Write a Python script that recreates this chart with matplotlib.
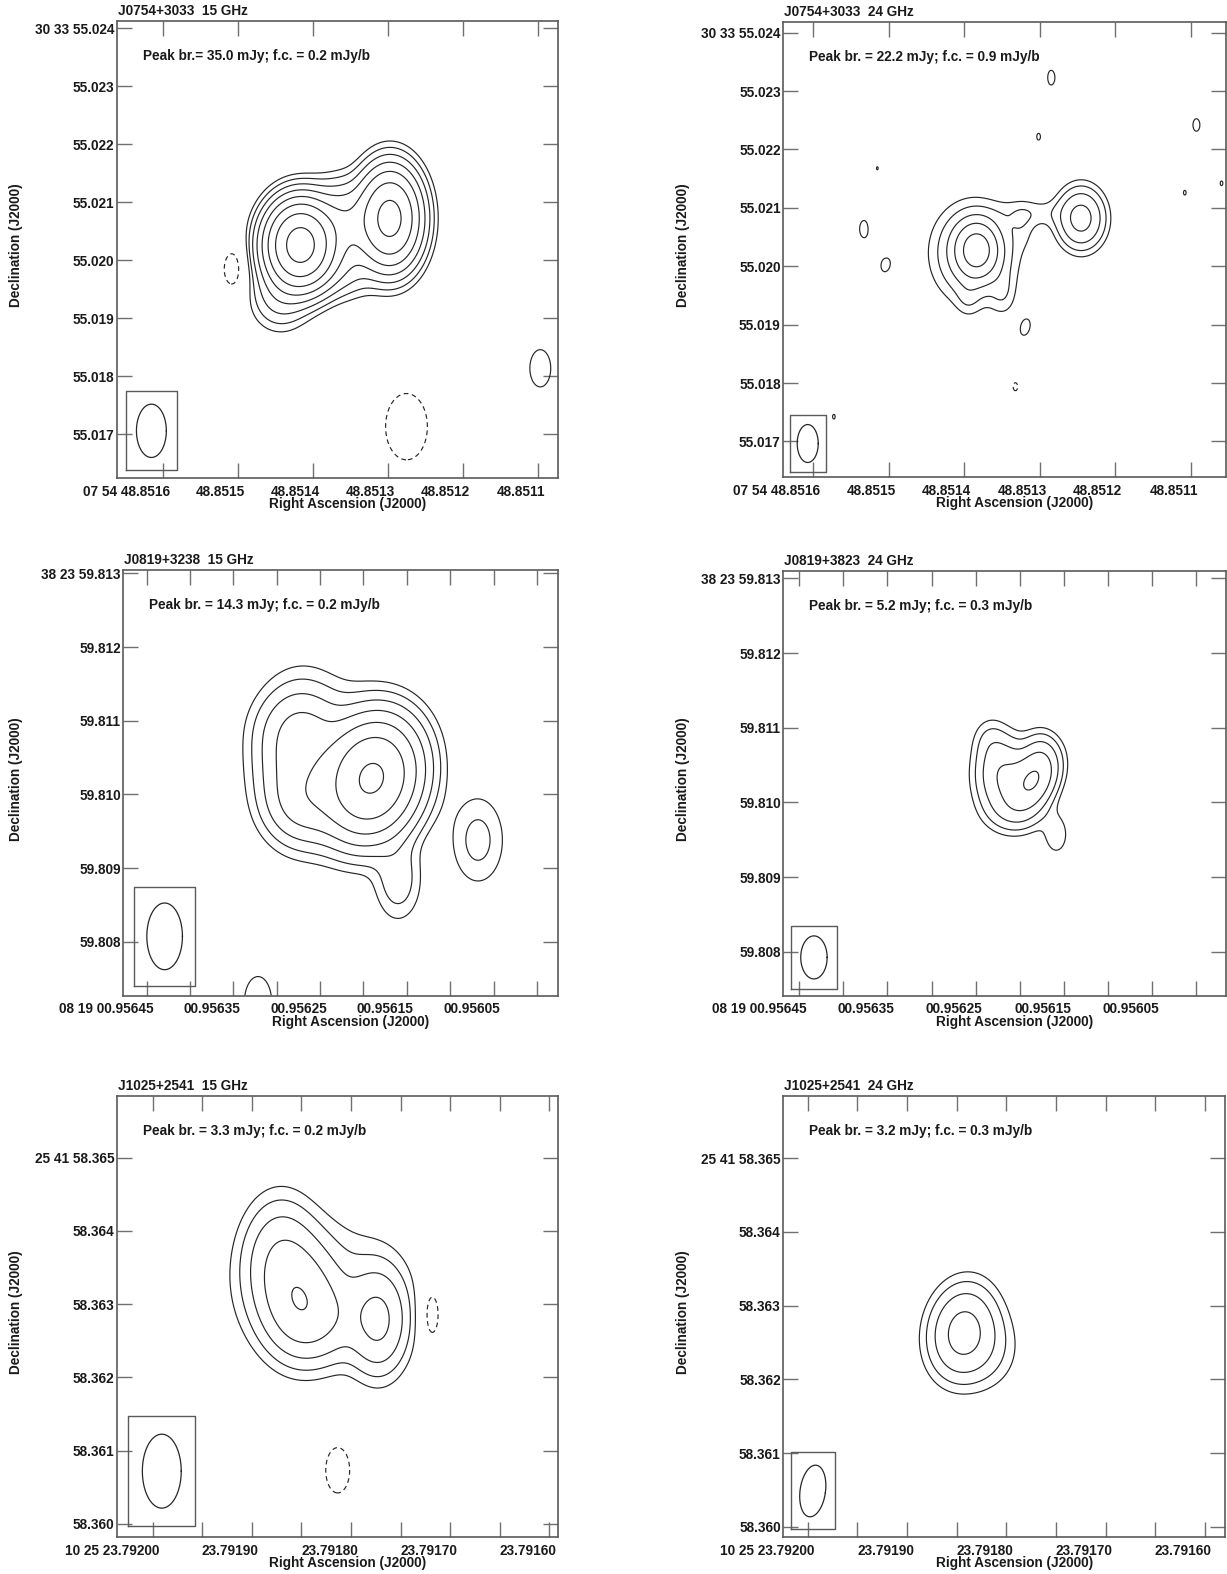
import numpy as np
import matplotlib
matplotlib.use('Agg')
import matplotlib.pyplot as plt
import matplotlib.transforms as mtransforms

plt.rcParams['font.family'] = ['Liberation Sans', 'DejaVu Sans']
plt.rcParams['font.weight'] = 'bold'
plt.rcParams['axes.labelweight'] = 'bold'
plt.rcParams['font.size'] = 9.8

W, H, DPI = 1227, 1574, 100

# Gaussian components: RA (s), Dec ("), peak (mJy/beam),
# sigma across / along (mas) and tilt on the page (deg)

# J0754+3033  15 GHz
p1_ra = [48.8514175, 48.8512976, 48.8513577, 48.8514444, 48.8513644, 48.8515052, 48.8512757, 48.8510973]
p1_dec = [55.020264, 55.020724, 55.020609, 55.019402, 55.019833, 55.019845, 55.017131, 55.018138]
p1_amp = [34.5, 16.0, 3.0, 1.0, 0.8, -0.28, -0.35, 0.28]
p1_sx = [0.30, 0.28, 0.35, 0.30, 0.35, 0.219, 0.34, 0.219]
p1_sy = [0.38, 0.45, 0.40, 0.35, 0.30, 0.391, 0.54, 0.391]
p1_rot = [0, 0, 0, 0, 0, 0, 0, 0]
p1_beam = [0.92, 0.515, 0]

# J0754+3033  24 GHz
p2_ra = [48.8513836, 48.8513872, 48.8512453, 48.8513232, 48.8513487, 48.8513951, 48.8513103,
         48.8515317, 48.8515034, 48.8515037, 48.8513139, 48.8512862, 48.8513016, 48.8515152,
         48.8510926, 48.8511080, 48.8510593, 48.8513191, 48.8513323, 48.8515727]
p2_dec = [55.020279, 55.020230, 55.020822, 55.020678, 55.019543, 55.019474, 55.020910,
          55.020639, 55.020661, 55.020065, 55.023219, 55.023230, 55.022219, 55.021678,
          55.022420, 55.021260, 55.021421, 55.018949, 55.017939, 55.017425]
p2_amp = [17.5, 5.0, 9.3, 0.9, 1.2, 1.0, 1.3,
          1.08, -0.93, 1.08, -0.93, 1.05, 0.92, 0.905, 0.97, 0.91, 0.91, 1.0, -0.93, 0.91]
p2_sx = [0.21, 0.42, 0.235, 0.14, 0.14, 0.13, 0.40] + [0.153] * 13
p2_sy = [0.27, 0.50, 0.305, 0.25, 0.25, 0.20, 0.16] + [0.276] * 13
p2_rot = [0, 0, 0, 0, 0, 0, 0, 0, 0, -10, 0, 0, 0, 0, 0, 0, 0, -15, 0, 0]
p2_beam = [0.65, 0.36, 0]

# J0819+3238  15 GHz
p3_ra = [0.9561903, 0.9562732, 0.9562674, 0.9562386, 0.9562732, 0.9561602, 0.9560679, 0.9563216]
p3_dec = [59.810218, 59.810467, 59.809856, 59.810467, 59.810901, 59.808838, 59.809381, 59.807183]
p3_amp = [14.0, 2.0, 1.2, 0.35, 0.5, 0.6, 0.5, 0.3]
p3_sx = [0.34, 0.33, 0.30, 0.60, 0.35, 0.20, 0.244, 0.205]
p3_sy = [0.44, 0.55, 0.30, 0.70, 0.30, 0.35, 0.41, 0.384]
p3_rot = [-15, 0, 0, 0, 0, 0, 0, 0]
p3_beam = [0.905, 0.483, 0]

# J0819+3823  24 GHz
p4_ra = [0.9561840, 0.9562188, 0.9561768, 0.9561586, 0.9562052, 0.9562335]
p4_dec = [59.810300, 59.810367, 59.810675, 59.809564, 59.809898, 59.810835]
p4_amp = [4.6, 2.4, 0.8, 0.5, 1.0, 0.5]
p4_sx = [0.17, 0.22, 0.15, 0.12, 0.25, 0.15]
p4_sy = [0.26, 0.30, 0.20, 0.20, 0.20, 0.20]
p4_rot = [-25, 0, 0, 0, 0, 0]
p4_beam = [0.576, 0.352, 0]

# J1025+2541  15 GHz
p5_ra = [23.7918514, 23.7918716, 23.7918313, 23.7917722, 23.7918313, 23.7917191, 23.7918134]
p5_dec = [58.363058, 58.363604, 58.362785, 58.362771, 58.363194, 58.362869, 58.360734]
p5_amp = [1.9, 1.3, 0.9, 1.7, 0.5, -0.32, -0.26]
p5_sx = [0.30, 0.30, 0.35, 0.24, 0.70, 0.12, 0.225]
p5_sy = [0.45, 0.50, 0.35, 0.43, 0.60, 0.35, 0.429]
p5_rot = [0, 0, 0, 0, 0, 0, 0]
p5_beam = [1.01, 0.53, 0]

# J1025+2541  24 GHz
p6_ra = [23.7918442, 23.7918215]
p6_dec = [58.362653, 58.362399]
p6_amp = [2.9, 0.6]
p6_sx = [0.27, 0.30]
p6_sy = [0.38, 0.35]
p6_rot = [-10, 0]
p6_beam = [0.706, 0.346, -8]

titles = ['J0754+3033  15 GHz', 'J0754+3033  24 GHz', 'J0819+3238  15 GHz',
          'J0819+3823  24 GHz', 'J1025+2541  15 GHz', 'J1025+2541  24 GHz']
peak_texts = ['Peak br.= 35.0 mJy; f.c. = 0.2 mJy/b', 'Peak br. = 22.2 mJy; f.c. = 0.9 mJy/b',
              'Peak br. = 14.3 mJy; f.c. = 0.2 mJy/b', 'Peak br. = 5.2 mJy; f.c. = 0.3 mJy/b',
              'Peak br. = 3.3 mJy; f.c. = 0.2 mJy/b', 'Peak br. = 3.2 mJy; f.c. = 0.3 mJy/b']
first_cont = [0.2, 0.9, 0.2, 0.3, 0.2, 0.3]
dec_deg = [30.565, 30.565, 38.40, 38.40, 25.6996, 25.6996]

ra_ticks_a = [48.8516, 48.8515, 48.8514, 48.8513, 48.8512, 48.8511]
ra_labels_a = ['07 54 48.8516', '48.8515', '48.8514', '48.8513', '48.8512', '48.8511']
ra_ticks_b = [0.95645, 0.95640, 0.95635, 0.95630, 0.95625, 0.95620, 0.95615, 0.95610, 0.95605, 0.95600]
ra_labels_b = ['08 19 00.95645', '', '00.95635', '', '00.95625', '', '00.95615', '', '00.95605', '']
ra_ticks_c = [23.79200, 23.79195, 23.79190, 23.79185, 23.79180, 23.79175, 23.79170, 23.79165, 23.79160]
ra_labels_c = ['10 25 23.79200', '', '23.79190', '', '23.79180', '', '23.79170', '', '23.79160']
dec_ticks_a = [55.024, 55.023, 55.022, 55.021, 55.020, 55.019, 55.018, 55.017]
dec_labels_a = ['30 33 55.024', '55.023', '55.022', '55.021', '55.020', '55.019', '55.018', '55.017']
dec_ticks_b = [59.813, 59.812, 59.811, 59.810, 59.809, 59.808]
dec_labels_b = ['38 23 59.813', '59.812', '59.811', '59.810', '59.809', '59.808']
dec_ticks_c = [58.365, 58.364, 58.363, 58.362, 58.361, 58.360]
dec_labels_c = ['25 41 58.365', '58.364', '58.363', '58.362', '58.361', '58.360']

# axis ranges (RA left->right, Dec bottom->top)
xlims = [(48.8516621, 48.8510733), (48.8516397, 48.8510534), (0.9564770, 0.9559753),
         (0.9564681, 0.9559662), (23.7920363, 23.7915909), (23.7920246, 23.7915797)]
ylims = [(55.016241, 55.024131), (55.016387, 55.024188), (59.807269, 59.813045),
         (59.807412, 59.813098), (58.359822, 58.365842), (58.359857, 58.365845)]
# axes boxes in pixels: left, right, top, bottom
boxes_px = [(116.7, 558.3, 20.7, 478.3), (783.3, 1226, 21.7, 477.3), (123.3, 558.3, 570, 995.7),
            (783.3, 1226, 571, 995.7), (116.7, 558.3, 1096, 1537), (783.3, 1225, 1096, 1537.3)]

comps = [(p1_ra, p1_dec, p1_amp, p1_sx, p1_sy, p1_rot), (p2_ra, p2_dec, p2_amp, p2_sx, p2_sy, p2_rot),
         (p3_ra, p3_dec, p3_amp, p3_sx, p3_sy, p3_rot), (p4_ra, p4_dec, p4_amp, p4_sx, p4_sy, p4_rot),
         (p5_ra, p5_dec, p5_amp, p5_sx, p5_sy, p5_rot), (p6_ra, p6_dec, p6_amp, p6_sx, p6_sy, p6_rot)]
beams = [p1_beam, p2_beam, p3_beam, p4_beam, p5_beam, p6_beam]
xticks = [(ra_ticks_a, ra_labels_a)] * 2 + [(ra_ticks_b, ra_labels_b)] * 2 + [(ra_ticks_c, ra_labels_c)] * 2
yticks = [(dec_ticks_a, dec_labels_a)] * 2 + [(dec_ticks_b, dec_labels_b)] * 2 + [(dec_ticks_c, dec_labels_c)] * 2

LINE = '#262626'
FRAME = '#5a5a5a'


def model(ra_g, dec_g, ra, dec, amp, sx, sy, rot, cosd):
    z = np.zeros_like(ra_g)
    for r0, d0, a, s1, s2, t in zip(ra, dec, amp, sx, sy, rot):
        ex = -(ra_g - r0) * 15000.0 * cosd   # mas, to the right on the page
        ny = (dec_g - d0) * 1000.0
        th = np.radians(t)
        u = ex * np.cos(th) + ny * np.sin(th)
        v = -ex * np.sin(th) + ny * np.cos(th)
        z += a * np.exp(-0.5 * ((u / s1) ** 2 + (v / s2) ** 2))
    return z


fig = plt.figure(figsize=(W / DPI, H / DPI), dpi=DPI)
shift = mtransforms.ScaledTranslation(7 / DPI, 0, fig.dpi_scale_trans)

for i in range(6):
    l, r, t, b = boxes_px[i]
    ax = fig.add_axes([l / W, 1 - b / H, (r - l) / W, (b - t) / H])
    cosd = np.cos(np.radians(dec_deg[i]))
    x0, x1 = xlims[i]
    y0, y1 = ylims[i]

    gx = np.linspace(x0, x1, 520)
    gy = np.linspace(y0, y1, 520)
    RA, DEC = np.meshgrid(gx, gy)
    Z = model(RA, DEC, *comps[i], cosd)

    fc = first_cont[i]
    levels = [lv for lv in fc * np.array([-1, 1, 2, 4, 8, 16, 32, 64, 128]) if lv < Z.max()]
    styles = [(0, (4, 3)) if lv < 0 else 'solid' for lv in levels]
    ax.contour(RA, DEC, Z, levels=levels, colors=LINE, linewidths=0.85, linestyles=styles)

    # restoring beam in its box, bottom-left corner
    bmaj, bmin, bpa = beams[i]
    bw, bh = 1.72 * bmin, 1.48 * bmaj
    bx0 = x0 - 0.30 * bmin / (15000 * cosd)
    by0 = y0 + 0.15 * bmaj / 1000
    bx1 = bx0 - bw / (15000 * cosd)
    by1 = by0 + bh / 1000
    ax.plot([bx0, bx1, bx1, bx0, bx0], [by0, by0, by1, by1, by0], color=FRAME, lw=1.0)
    cx, cy = (bx0 + bx1) / 2, (by0 + by1) / 2
    tt = np.linspace(0, 2 * np.pi, 200)
    ex, ny = bmin / 2 * np.cos(tt), bmaj / 2 * np.sin(tt)
    th = np.radians(bpa)
    X = ex * np.cos(th) - ny * np.sin(th)
    Y = ex * np.sin(th) + ny * np.cos(th)
    ax.plot(cx - X / (15000 * cosd), cy + Y / 1000, color=LINE, lw=0.9)

    ax.set_xlim(x0, x1)
    ax.set_ylim(y0, y1)
    ax.set_xticks(xticks[i][0], xticks[i][1])
    ax.set_yticks(yticks[i][0], yticks[i][1])
    ax.tick_params(direction='in', length=11, width=1.0, color='#707070',
                   top=True, right=True, labelsize=9.8, labelcolor='#1a1a1a')
    ax.tick_params(axis='x', pad=4.8)
    ax.tick_params(axis='y', pad=1.8)
    for lab in ax.get_xticklabels():
        lab.set_horizontalalignment('right')
        lab.set_transform(lab.get_transform() + shift)
    for sp in ax.spines.values():
        sp.set_color(FRAME)
        sp.set_linewidth(1.2)

    ax.annotate(titles[i], xy=(0, 1), xycoords='axes fraction', xytext=(1, 10),
                textcoords='offset pixels', ha='left', va='center', color='#1a1a1a')
    ax.annotate(peak_texts[i], xy=(0, 1), xycoords='axes fraction', xytext=(26, -35),
                textcoords='offset pixels', ha='left', va='center', color='#1a1a1a')

    ax.set_xlabel('Right Ascension (J2000)', color='#1a1a1a')
    ax.xaxis.set_label_coords(((l + r) / 2 + 10) / W, 1 - (b + 26) / H, transform=fig.transFigure)
    ax.xaxis.label.set_va('center')
    ax.set_ylabel('Declination (J2000)', color='#1a1a1a')
    ylx = 16.3 if l < 600 else 683.3
    ax.yaxis.set_label_coords(ylx / W, 1 - ((t + b) / 2 - 4) / H, transform=fig.transFigure)
    ax.yaxis.label.set_va('center')

fig.savefig('out.png', dpi=DPI)
